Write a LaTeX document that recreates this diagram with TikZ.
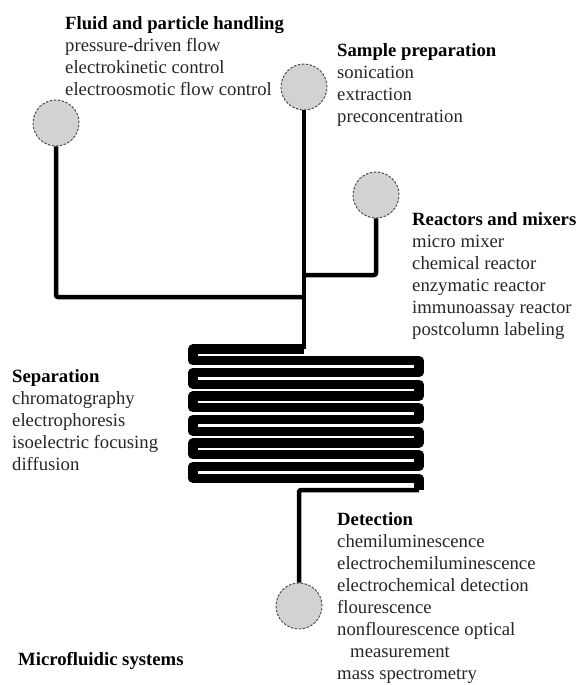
\documentclass[tikz,border=0pt]{standalone}
\usepackage{fontspec}
\setmainfont{Liberation Serif}
\newcommand{\hdg}[1]{\textcolor{black}{\textbf{#1}}}
\newcommand{\blocktext}[1]{\begin{tabular}[t]{@{}l@{}}#1\end{tabular}}
\begin{document}
\begin{tikzpicture}[x=1bp,y=-1bp,
  port/.style={circle, fill=gray!35, draw=black!75, dash pattern=on 2.5bp off 1.5bp, line width=0.9bp, minimum size=46bp, inner sep=0pt},
  conn/.style={line width=4.5bp, line join=round, rounded corners=2bp},
  chan/.style={line width=9.3bp, line join=round},
  blk/.style={anchor=base west, inner sep=0pt, font=\fontsize{18.7bp}{22bp}\selectfont, text=black!85}
]
\useasboundingbox (0,0) rectangle (579,685);

% ports
\node[port] (c1) at (56,123) {};
\node[port] (c2) at (304,87) {};
\node[port] (c3) at (376,195) {};
\node[port] (c4) at (299,606) {};

% junctions
\coordinate (j1) at (304,297);
\coordinate (j3) at (304,275);
\coordinate (s0) at (304,349);

% connectors
\draw[conn] (c1.south) |- (j1);
\draw[conn] (c3.south) |- (j3);
\draw[conn] (c2.south) -- (s0);

% serpentine channel
\def\xL{193}
\def\xR{419}
\draw[chan] (s0) -- (\xL,349)
  -- (\xL,360.75) -- (\xR,360.75) -- (\xR,372.5) -- (\xL,372.5)
  -- (\xL,384.25) -- (\xR,384.25) -- (\xR,396) -- (\xL,396)
  -- (\xL,407.75) -- (\xR,407.75) -- (\xR,419.5) -- (\xL,419.5)
  -- (\xL,431.25) -- (\xR,431.25) -- (\xR,443) -- (\xL,443)
  -- (\xL,454.75) -- (\xR,454.75) -- (\xR,466.5) -- (\xL,466.5)
  -- (\xL,478.25) -- (\xR,478.25) -- (\xR,490) coordinate (s12);
\draw[conn] (s12) -| (c4.north);

% texts
\node[blk] (fluid) at (65,30) {\blocktext{\hdg{Fluid and particle handling}\\pressure-driven flow\\electrokinetic control\\electroosmotic flow control}};
\node[blk] (sample) at (337,57) {\blocktext{\hdg{Sample preparation}\\sonication\\extraction\\preconcentration}};
\node[blk] (react) at (412,225) {\blocktext{\hdg{Reactors and mixers}\\micro mixer\\chemical reactor\\enzymatic reactor\\immunoassay reactor\\postcolumn labeling}};
\node[blk] (sep) at (12,382) {\blocktext{\hdg{Separation}\\chromatography\\electrophoresis\\isoelectric focusing\\diffusion}};
\node[blk] (det) at (337,525) {\blocktext{\hdg{Detection}\\chemiluminescence\\electrochemiluminescence\\electrochemical detection\\flourescence\\nonflourescence optical\\\hspace*{13bp}measurement\\mass spectrometry}};
\node[blk, text=black] (title) at (18,665) {\textbf{Microfluidic systems}};
\end{tikzpicture}
\end{document}
